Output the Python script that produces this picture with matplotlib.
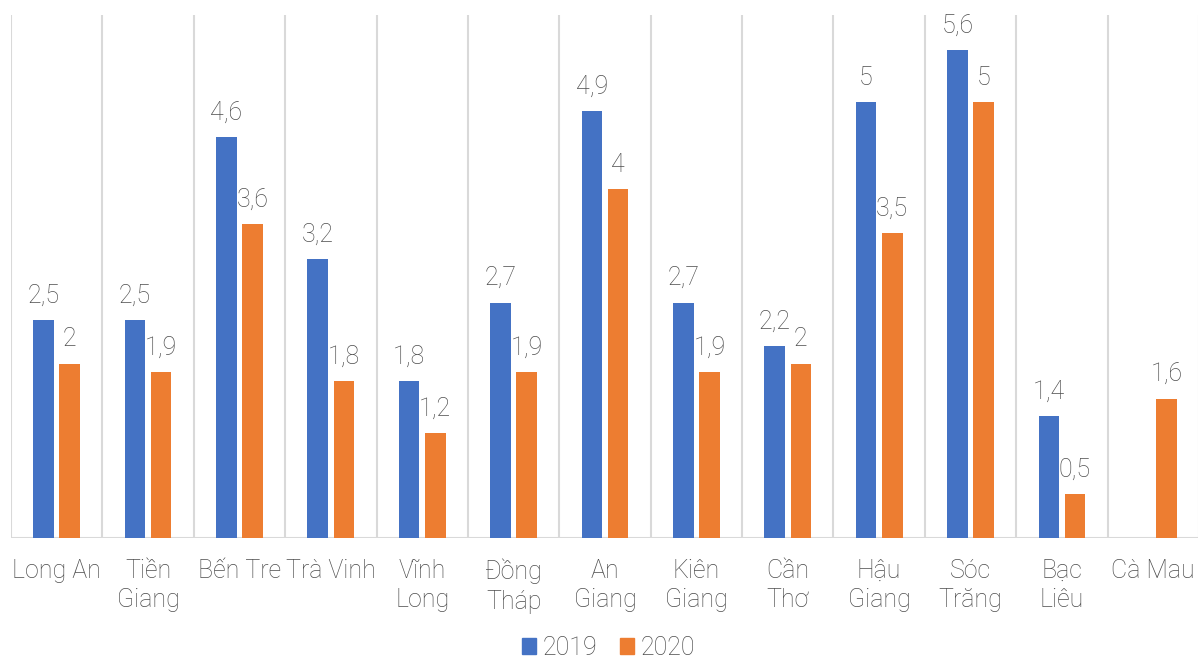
import numpy as np
import matplotlib
matplotlib.use("Agg")
import matplotlib.pyplot as plt
from matplotlib.patches import Patch

plt.rcParams['font.family'] = ['Roboto', 'DejaVu Sans']
plt.rcParams['font.weight'] = 'light'

provinces = ["Long An", "Tiền\nGiang", "Bến Tre", "Trà Vinh", "Vĩnh\nLong", "Đồng\nTháp",
             "An\nGiang", "Kiên\nGiang", "Cần\nThơ", "Hậu\nGiang", "Sóc\nTrăng", "Bạc\nLiêu",
             "Cà Mau"]
values_2019 = [2.5, 2.5, 4.6, 3.2, 1.8, 2.7, 4.9, 2.7, 2.2, 5.0, 5.6, 1.4, np.nan]
values_2020 = [2.0, 1.9, 3.6, 1.8, 1.2, 1.9, 4.0, 1.9, 2.0, 3.5, 5.0, 0.5, 1.6]
series_names = ["2019", "2020"]
colors = ["#4472C4", "#ED7D31"]
text_color = "#4D4D4D"
grid_color = "#D9D9D9"

fig = plt.figure(figsize=(11.98, 6.6), dpi=100)
ax = fig.add_axes([11 / 1198, 1 - 538 / 660, 1188 / 1198, 523 / 660])

x = np.arange(len(provinces))
width = 0.226
offset = 0.143

def fmt(v):
    s = f"{v:.1f}".replace(".", ",")
    return s[:-2] if s.endswith(",0") else s

for vals, off, col in [(values_2019, -offset, colors[0]), (values_2020, offset, colors[1])]:
    for xi, v in zip(x, vals):
        if np.isnan(v):
            continue
        ax.bar(xi + off, v, width=width, color=col, zorder=3)
        ax.annotate(fmt(v), (xi + off, v), xytext=(0, 9), textcoords="offset points",
                    ha="center", va="bottom", fontsize=18, color=text_color)

ax.set_xlim(-0.5, len(provinces) - 0.5)
ax.set_ylim(0, 6)
for b in np.arange(-0.5, len(provinces), 1.0):
    ax.axvline(b, color=grid_color, lw=1.5, zorder=1)
ax.axhline(0, color=grid_color, lw=1.5, zorder=2)

for s in ax.spines.values():
    s.set_visible(False)
ax.set_yticks([])
ax.set_xticks(x)
ax.set_xticklabels(provinces, fontsize=18, color=text_color, linespacing=1.28, va="top")
ax.tick_params(axis="x", length=0, pad=15)

handles = [Patch(color=c, label=n) for c, n in zip(colors, series_names)]
leg = fig.legend(handles=handles, loc="center", bbox_to_anchor=(608.5 / 1198, 1 - 648 / 660), ncol=2,
                 frameon=False, fontsize=18, handlelength=0.56, handleheight=0.6,
                 handletextpad=0.28, columnspacing=0.9, borderpad=0)
for t in leg.get_texts():
    t.set_color(text_color)

fig.savefig("out.png", dpi=100)
